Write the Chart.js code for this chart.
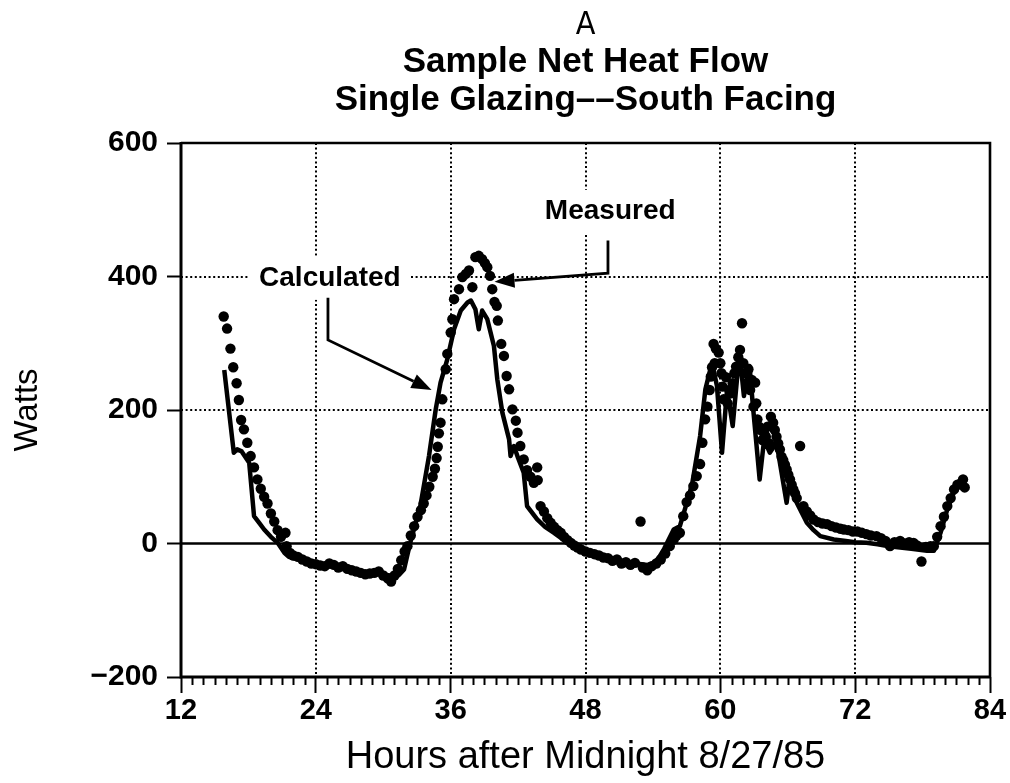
<!DOCTYPE html>
<html>
<head>
<meta charset="utf-8">
<script src="https://cdn.jsdelivr.net/npm/chart.js@4.4.1/dist/chart.umd.min.js"></script>
<style>
  html, body { margin: 0; padding: 0; background: #fff; }
  #wrap { width: 1010px; height: 783px; }
</style>
</head>
<body>
<div id="wrap"><canvas id="c" width="1010" height="783"></canvas></div>
<script>
// ---------------- DATA ----------------
const titleTop = 'A';
const titleLines = ['Sample Net Heat Flow', 'Single Glazing\u2013\u2013South Facing'];
const xTitle = 'Hours after Midnight 8/27/85';
const yTitle = 'Watts';
const xTicks = [12, 24, 36, 48, 60, 72, 84];
const yTicks = [-200, 0, 200, 400, 600];

const measuredHours = [
  15.8, 16.1, 16.4, 16.65, 16.95, 17.15, 17.35, 17.6, 17.9, 18.2, 18.5, 18.8, 19.1, 19.4, 19.7, 20.0,
  20.3, 20.6, 20.9, 21.3, 21.4, 21.7, 22.0, 22.4, 22.8, 23.2, 23.6, 24.0, 24.4, 24.8, 25.2, 25.6,
  26.0, 26.4, 26.8, 27.2, 27.6, 28.0, 28.4, 28.8, 29.2, 29.6, 30.0, 30.4, 30.7, 31.0, 31.3, 31.6,
  31.9, 32.15, 32.45, 32.75, 33.05, 33.35, 33.6, 33.85, 34.1, 34.4, 34.6, 34.75, 34.85, 34.95, 35.1, 35.26,
  35.56, 35.7, 36.0, 36.15, 36.3, 36.74, 37.04, 37.35, 37.63, 37.93, 38.2, 38.5, 38.8, 39.05, 39.26, 39.5,
  39.7, 39.9, 40.1, 40.2, 40.5, 40.74, 40.98, 41.2, 41.5, 41.8, 41.95, 42.2, 42.5, 42.8, 43.1, 43.4,
  43.7, 43.75, 44.0, 44.3, 44.6, 44.9, 45.2, 45.5, 45.8, 46.1, 46.4, 46.7, 47.0, 47.3, 47.6, 48.0,
  48.4, 48.8, 49.2, 49.6, 50.0, 50.4, 50.8, 51.2, 51.6, 52.0, 52.4, 52.9, 53.1, 53.5, 53.9, 54.3,
  54.7, 55.1, 55.5, 55.85, 56.1, 56.4, 56.7, 57.0, 57.3, 57.6, 57.9, 58.2, 58.4, 58.65, 58.85, 59.05,
  59.15, 59.26, 59.4, 59.5, 59.6, 59.85, 60.0, 60.1, 60.2, 60.3, 60.5, 60.65, 60.8, 60.95, 61.1, 61.25,
  61.4, 61.6, 61.75, 61.93, 62.05, 62.2, 62.35, 62.5, 62.65, 62.8, 62.95, 63.1, 63.2, 63.3, 63.45, 63.6,
  63.75, 63.9, 64.05, 64.2, 64.35, 64.5, 64.7, 64.85, 65.0, 65.15, 65.3, 65.45, 65.6, 65.75, 65.9, 66.05,
  66.2, 66.35, 66.5, 66.65, 66.8, 67.1, 67.4, 67.7,
  68.0, 68.3, 68.7, 69.1, 69.5, 69.9, 70.3, 70.7, 71.0, 71.4, 71.8, 72.2, 72.6, 73.0, 73.4, 73.9,
  74.3, 74.7, 75.1, 75.5, 76.0, 76.4, 76.8, 77.2, 77.5, 77.9, 78.3, 78.7, 79.0, 79.3, 79.6, 79.9,
  80.2, 80.5, 80.8, 81.1, 81.4, 81.6, 81.75
];
const measuredWatts = [
  340, 322, 292, 264, 240, 215, 185, 171, 151, 131, 114, 96, 82, 70, 60, 45,
  33, 20, 10, 16, -4, -14, -18, -20, -24, -27, -30, -31, -33, -34, -30, -32,
  -36, -34, -38, -40, -42, -44, -46, -45, -44, -42, -48, -52, -57, -48, -38, -25,
  -12, -4, 12, 26, 40, 50, 60, 72, 85, 100, 112, 128, 145, 165, 181, 216,
  261, 284, 316, 336, 366, 381, 399, 404, 409, 384, 429, 431, 426, 420, 414, 401,
  381, 362, 356, 334, 299, 281, 251, 231, 201, 184, 166, 146, 126, 110, 100, 91,
  114, 95, 56, 48, 38, 31, 25, 20, 16, 10, 5, 1, -3, -6, -9, -12,
  -14, -16, -18, -21, -22, -26, -24, -30, -28, -32, -29, 33, -36, -40, -34, -30,
  -24, -15, -4, 6, 12, 16, 41, 62, 72, 86, 101, 119, 151, 186, 205, 230,
  250, 264, 299, 270, 292, 286, 270, 255, 235, 216, 249, 210, 230, 225, 240, 255,
  265, 279, 290, 330, 270, 255, 240, 261, 230, 245, 205, 241, 210, 186, 175, 170,
  155, 165, 160, 175, 150, 190, 181, 170, 160, 150, 141, 130, 125, 118, 111, 103,
  96, 88, 81, 75, 68, 146, 56, 48,
  42, 36, 32, 30, 29, 26, 24, 22, 21, 20, 18, 18, 16, 14, 12, 11,
  8, 4, -4, 2, 4, 0, 2, 1, -3, -27, -5, -4, -4, 10, 26, 40,
  56, 68, 81, 88, 90, 96, 84
];

const calcHours = [
  15.85, 16.7, 17.0, 17.4, 18.07, 18.5, 18.96, 19.4, 20.0, 20.6, 21.2, 21.6, 22.0, 22.5, 23.0, 23.5,
  24.0, 24.5, 25.0, 25.5, 26.0, 26.5, 27.0, 27.5, 28.0, 28.5, 29.0, 29.5, 30.0, 30.5, 31.0, 31.4,
  31.85, 32.4, 33.3, 34.07, 34.67, 35.1, 35.7, 36.3, 36.9, 37.5, 37.8, 38.2, 38.5, 38.8, 39.26, 39.85,
  40.15, 40.6, 41.2, 41.33, 41.63, 42.0, 42.5, 42.8, 43.7, 44.4, 45.2, 46.0, 46.96, 47.5, 48.0, 48.5,
  49.0, 49.5, 50.0, 50.5, 51.0, 51.5, 52.0, 52.5, 53.0, 53.5, 54.0, 54.5, 55.0, 55.85, 56.4, 57.0,
  57.5, 58.2, 58.67, 59.26, 59.7, 60.15, 60.6, 61.1, 61.7, 62.1, 62.6, 62.9, 63.5, 63.9, 64.4, 65.0,
  65.9, 66.2, 66.8, 67.7, 68.3, 68.9, 70.1, 71.0, 72.0, 73.0, 74.0, 75.0, 76.0, 77.0, 78.4, 79.0,
  79.6, 80.2, 81.0, 81.6
];
const calcWatts = [
  260, 136, 141, 138, 121, 41, 31, 21, 10, 1, -14, -20, -22, -22, -26, -30,
  -32, -35, -35, -33, -37, -38, -40, -42, -43, -45, -44, -43, -46, -48, -50, -47,
  -39, 1, 56, 131, 201, 241, 276, 321, 349, 361, 364, 351, 321, 349, 336, 296,
  246, 196, 156, 131, 146, 128, 106, 56, 36, 25, 16, 6, -4, -10, -14, -16,
  -18, -20, -22, -24, -26, -27, -28, -30, -31, -32, -30, -22, -8, 21, 26, 60,
  90, 161, 231, 271, 236, 136, 231, 176, 286, 221, 266, 206, 96, 156, 136, 151,
  61, 101, 61, 31, 20, 11, 6, 4, 2, 1, -1, -4, -6, -8, -11, -11,
  16, 51, 86, 91
];

// annotation labels (data units) and arrow paths
const labelCalculated = { text: 'Calculated', x: 25.25, y: 398 };
const labelMeasured = { text: 'Measured', x: 50.2, y: 497 };
const arrowCalculated = [[25.08, 368], [25.08, 305], [34.3, 230]];
const arrowMeasured = [[50.0, 454], [50.0, 405], [39.9, 392]];

// ---------------- CHART ----------------
const FONT = "'Liberation Sans', Arial, sans-serif";
const NARROW = "'Liberation Sans Narrow', 'DejaVu Sans Condensed', sans-serif";

const frameAndGrid = {
  id: 'frameAndGrid',
  beforeDatasetsDraw(chart) {
    const { ctx, chartArea: a, scales: { x, y } } = chart;
    ctx.save();
    // dotted grid
    ctx.strokeStyle = '#000';
    ctx.lineWidth = 2;
    ctx.setLineDash([2, 2.6]);
    xTicks.slice(1, -1).forEach(v => {
      const px = Math.round(x.getPixelForValue(v));
      ctx.beginPath(); ctx.moveTo(px, a.top); ctx.lineTo(px, a.bottom); ctx.stroke();
    });
    yTicks.filter(v => v > 0 && v < 600).forEach(v => {
      const py = Math.round(y.getPixelForValue(v));
      ctx.beginPath(); ctx.moveTo(a.left, py); ctx.lineTo(a.right, py); ctx.stroke();
    });
    ctx.setLineDash([]);
    // label background boxes
    ctx.fillStyle = '#fff';
    [labelCalculated, labelMeasured].forEach(l => {
      ctx.font = 'bold 28px ' + FONT;
      const w = ctx.measureText(l.text).width;
      const cx = x.getPixelForValue(l.x), cy = y.getPixelForValue(l.y);
      ctx.fillRect(cx - w / 2 - 10, cy - 22, w + 20, 44);
    });
    // zero line
    ctx.lineWidth = 2.4;
    const py0 = y.getPixelForValue(0);
    ctx.beginPath(); ctx.moveTo(a.left, py0); ctx.lineTo(a.right, py0); ctx.stroke();
    // frame
    ctx.lineWidth = 2.6;
    ctx.beginPath(); ctx.moveTo(a.left, a.top); ctx.lineTo(a.right, a.top); ctx.lineTo(a.right, a.bottom); ctx.stroke();
    ctx.lineWidth = 3;
    ctx.beginPath(); ctx.moveTo(a.left, a.top - 1); ctx.lineTo(a.left, a.bottom); ctx.lineTo(a.right + 1, a.bottom); ctx.stroke();
    // minor x ticks every hour
    ctx.lineWidth = 2;
    for (let h = xTicks[0] + 1; h < xTicks[xTicks.length - 1]; h++) {
      if (h % 12 === 0) continue;
      const px = Math.round(x.getPixelForValue(h)) + 0.5;
      ctx.beginPath(); ctx.moveTo(px, a.bottom); ctx.lineTo(px, a.bottom + 8); ctx.stroke();
    }
    ctx.restore();
  },
  afterDatasetsDraw(chart) {
    const { ctx, scales: { x, y } } = chart;
    ctx.save();
    ctx.fillStyle = '#000';
    ctx.strokeStyle = '#000';
    ctx.font = 'bold 28px ' + FONT;
    ctx.textAlign = 'center';
    ctx.textBaseline = 'middle';
    [labelCalculated, labelMeasured].forEach(l => {
      ctx.fillText(l.text, x.getPixelForValue(l.x), y.getPixelForValue(l.y));
    });
    ctx.lineWidth = 2.8;
    [arrowCalculated, arrowMeasured].forEach(path => {
      const pts = path.map(p => [x.getPixelForValue(p[0]), y.getPixelForValue(p[1])]);
      const n = pts.length;
      const [tx, ty] = pts[n - 1];
      const [sx, sy] = pts[n - 2];
      const ang = Math.atan2(ty - sy, tx - sx);
      const L = 20, W = 7.5;
      const bx = tx - L * Math.cos(ang), by = ty - L * Math.sin(ang);
      ctx.beginPath();
      ctx.moveTo(pts[0][0], pts[0][1]);
      for (let i = 1; i < n - 1; i++) ctx.lineTo(pts[i][0], pts[i][1]);
      ctx.lineTo(bx, by);
      ctx.stroke();
      ctx.beginPath();
      ctx.moveTo(tx, ty);
      ctx.lineTo(bx + W * Math.sin(ang), by - W * Math.cos(ang));
      ctx.lineTo(bx - W * Math.sin(ang), by + W * Math.cos(ang));
      ctx.closePath();
      ctx.fill();
    });
    ctx.restore();
  }
};

new Chart(document.getElementById('c'), {
  type: 'scatter',
  data: {
    datasets: [
      {
        label: 'Calculated',
        data: calcHours.map((h, i) => ({ x: h, y: calcWatts[i] })),
        showLine: true,
        borderColor: '#000',
        borderWidth: 4.5,
        borderJoinStyle: 'round',
        pointRadius: 0,
        tension: 0,
        fill: false
      },
      {
        label: 'Measured',
        data: measuredHours.map((h, i) => ({ x: h, y: measuredWatts[i] })),
        showLine: false,
        pointRadius: 5.2,
        pointBackgroundColor: '#000',
        pointBorderWidth: 0,
        borderColor: '#000'
      }
    ]
  },
  options: {
    responsive: false,
    animation: false,
    events: [],
    layout: { padding: { left: 0, right: 20, top: 0, bottom: 0 } },
    plugins: {
      legend: { display: false },
      tooltip: { enabled: false },
      title: {
        display: true, text: titleTop, fullSize: false, color: '#000',
        font: { family: NARROW, size: 32, weight: 'normal', lineHeight: 1 },
        padding: { top: 10, bottom: 0 }
      },
      subtitle: {
        display: true, text: titleLines, fullSize: false, color: '#000',
        font: { family: FONT, size: 35, weight: 'bold', lineHeight: 1.1 },
        padding: { top: 1, bottom: 23 }
      }
    },
    scales: {
      x: {
        type: 'linear', min: 12, max: 84,
        afterBuildTicks(s) { s.ticks = xTicks.map(v => ({ value: v })); },
        ticks: { color: '#000', font: { family: FONT, size: 29, weight: 'bold' }, padding: 1, maxRotation: 0, autoSkip: false },
        grid: { drawOnChartArea: false, drawTicks: true, tickLength: 16, tickWidth: 2, tickColor: '#000' },
        border: { display: false },
        title: { display: true, text: xTitle, color: '#000', font: { family: FONT, size: 38, weight: 'normal', lineHeight: 1 }, padding: { top: 0, bottom: 6 } },
        afterFit(s) { s.height = 106; }
      },
      y: {
        type: 'linear', min: -200, max: 600,
        afterBuildTicks(s) { s.ticks = yTicks.map(v => ({ value: v })); },
        ticks: { color: '#000', font: { family: FONT, size: 30, weight: 'bold' }, padding: 9,
                 callback: v => String(v).replace('-', '\u2212') },
        grid: { drawOnChartArea: false, drawTicks: true, tickLength: 14, tickWidth: 2, tickColor: '#000' },
        border: { display: false },
        title: { display: true, text: yTitle, color: '#000', font: { family: FONT, size: 33, weight: 'normal', lineHeight: 1 }, padding: { top: 11, bottom: 0 } },
        afterFit(s) { s.width = 181; }
      }
    }
  },
  plugins: [frameAndGrid]
});
</script>
</body>
</html>
